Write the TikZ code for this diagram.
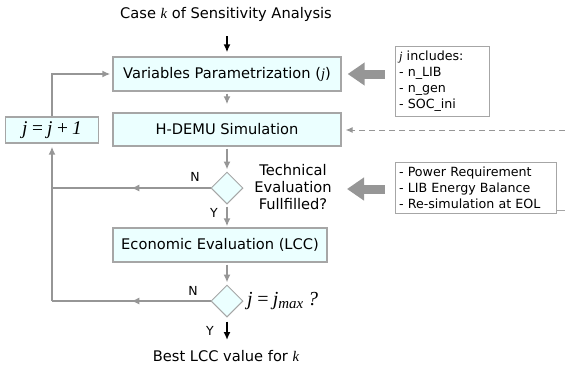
\documentclass[tikz,border=0pt]{standalone}
\usepackage{fontspec}
\setmainfont{DejaVu Sans}
\newfontfamily\tms{Liberation Serif}
\usetikzlibrary{arrows.meta,shapes.geometric,decorations.markings}
\definecolor{boxfill}{RGB}{235,255,255}
\definecolor{bordergray}{RGB}{166,166,166}
\definecolor{arrgray}{RGB}{150,150,150}
\begin{document}
\begin{tikzpicture}[x=1bp,y=-1bp,
  mainbox/.style={draw=bordergray, fill=boxfill, line width=1.3bp, minimum height=34bp, inner sep=0pt, font=\fontsize{14.7}{17}\selectfont},
  infobox/.style={draw=bordergray, fill=white, line width=1bp, align=left, inner xsep=4bp, inner ysep=3bp, font=\fontsize{12.7}{16}\selectfont},
  decision/.style={diamond, aspect=1, draw=bordergray, fill=boxfill, line width=1bp, minimum size=32bp, inner sep=0pt},
  plain/.style={inner sep=0pt, font=\fontsize{14.7}{17}\selectfont},
  lbl/.style={inner sep=0pt, font=\fontsize{12.5}{15}\selectfont},
  gline/.style={draw=arrgray, line width=1.8bp},
  garrow/.style={gline, -{Latex[length=8bp,width=7bp]}},
  barrow/.style={draw=black, line width=1.8bp, -{Latex[length=8bp,width=7bp]}},
  midarr/.style={postaction={decorate}, decoration={markings, mark=at position 0.5 with {\arrow[arrgray]{Latex[length=8bp,width=7bp]}}}},
  thickarr/.style={draw=arrgray, line width=9bp, -{Triangle[length=17bp,width=22bp]}}
]
\useasboundingbox (0,0) rectangle (565,372);

% title and input
\node[plain] (title) at (226,14) {Case {\tms\itshape k} of Sensitivity Analysis};
\coordinate (start) at (227,36);

% main chain
\node[mainbox, minimum width=228bp] (box1) at (227,74) {Variables Parametrization ({\tms\itshape j})};
\node[mainbox, minimum width=228bp, minimum height=33bp] (box2) at (227,129.5) {H-DEMU Simulation};
\node[decision] (d1) at (227,188) {};
\node[plain, align=center] (tech) at (293,187) {Technical\\Evaluation\\Fullfilled?};
\node[mainbox, minimum width=214bp] (box3) at (220,245) {Economic Evaluation (LCC)};
\node[decision] (d2) at (227,301) {};
\node[inner sep=0pt, anchor=west, font=\fontsize{20}{20}\selectfont\tms\itshape] (jmax) at (247,301) {j\,=\,j\raisebox{-3bp}{\fontsize{15}{15}\selectfont max} ?};
\node[plain] (best) at (226,356) {Best LCC value for {\tms\itshape k}};

% loop box
\node[draw=bordergray, fill=boxfill, line width=1.3bp, minimum width=93bp, minimum height=26bp, inner sep=0pt, font=\fontsize{19.5}{19.5}\selectfont\tms\itshape] (inc) at (52,130) {j\,=\,j\,+\,1};

% info boxes
\node[infobox, text width=86bp, minimum height=70bp] (info1) at (442,81) {{\tms\itshape j} includes:\\- n\_LIB\\- n\_gen\\- SOC\_ini};
\node[infobox, text width=153bp, minimum height=51bp] (info2) at (475.5,187.5) {- Power Requirement\\- LIB Energy Balance\\- Re-simulation at EOL};

% vertical flow
\draw[barrow, shorten >=4bp] (start) -- (box1.north);
\draw[garrow, shorten <=2bp, shorten >=8bp] (box1.south) -- (box2.north);
\draw[garrow, shorten <=2bp, shorten >=2bp] (box2.south) -- (d1.north);
\draw[garrow, shorten <=2bp, shorten >=1bp] (d1.south) -- (box1.south |- box3.north);
\draw[garrow, shorten <=2bp, shorten >=2bp] (box1.south |- box3.south) -- (d2.north);
\coordinate (endpt) at (227,340);
\draw[barrow, shorten <=4bp] (d2.south) -- (endpt);

% labels
\node[lbl] (n1) at (195,177) {N};
\node[lbl] (y1) at (214,213) {Y};
\node[lbl] (n2) at (193,291) {N};
\node[lbl] (y2) at (210,331) {Y};

% loop back
\coordinate (c1) at (52,188);
\coordinate (c2) at (52,301);
\draw[gline, midarr] (d1.west) -- (c1);
\draw[gline, midarr] (d2.west) -- (c2);
\draw[garrow, shorten >=3bp] (c2) -- (inc.south);
\draw[garrow, shorten >=2bp] (inc.north) |- (box1.west);

% thick arrows from info boxes
\draw[thickarr, shorten <=10bp, shorten >=6bp] (info1.west |- box1.east) -- (box1.east);
\coordinate (t2) at (331,189);
\draw[thickarr, shorten <=10bp, shorten >=16bp] (info2.west |- t2) -- (t2);

% dashed input to simulation
\coordinate (dR) at (565,130);
\draw[draw=arrgray, line width=1bp, dash pattern=on 6bp off 4bp, -{Latex[length=7bp,width=6bp]}, shorten >=4bp] (dR) -- (box2.east |- dR);

% small line from info2
\coordinate (sR) at (565,210);
\draw[draw=bordergray, line width=1bp] (info2.east |- sR) -- (sR);
\end{tikzpicture}
\end{document}
